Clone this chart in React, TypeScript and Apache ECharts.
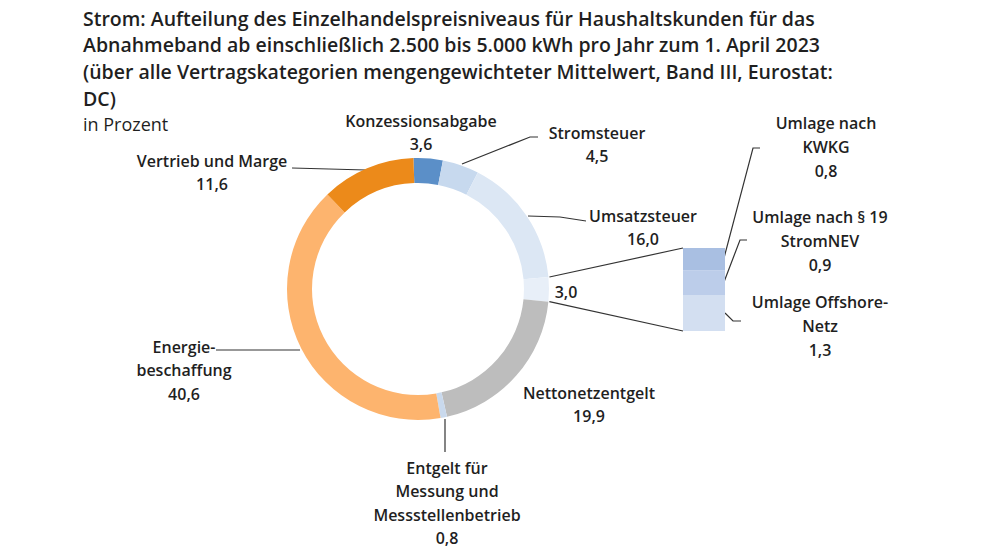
import React, { useEffect, useRef } from "react";
import * as echarts from "echarts";

const titleLines = [
  "Strom: Aufteilung des Einzelhandelspreisniveaus für Haushaltskunden für das",
  "Abnahmeband ab einschließlich 2.500 bis 5.000 kWh pro Jahr zum 1. April 2023",
  "(über alle Vertragskategorien mengengewichteter Mittelwert, Band III, Eurostat:",
  "DC)",
];
const unitLabel = "in Prozent";

const pieNames = [
  "Konzessionsabgabe",
  "Stromsteuer",
  "Umsatzsteuer",
  "Umlagen",
  "Nettonetzentgelt",
  "Entgelt für Messung und Messstellenbetrieb",
  "Energiebeschaffung",
  "Vertrieb und Marge",
];
const pieValues = [3.6, 4.5, 16.0, 3.0, 19.9, 0.8, 40.6, 11.6];
const pieLabelLines = [
  ["Konzessionsabgabe"],
  ["Stromsteuer"],
  ["Umsatzsteuer"],
  [],
  ["Nettonetzentgelt"],
  ["Entgelt für", "Messung und", "Messstellenbetrieb"],
  ["Energie-", "beschaffung"],
  ["Vertrieb und Marge"],
];

const barNames = ["Umlage Offshore-Netz", "Umlage nach § 19 StromNEV", "Umlage nach KWKG"];
const barValues = [1.3, 0.9, 0.8];
const barLabelLines = [
  ["Umlage Offshore-", "Netz"],
  ["Umlage nach § 19", "StromNEV"],
  ["Umlage nach", "KWKG"],
];

// styling / layout
const pieColors = ["#5b8fc8", "#c7d9ee", "#dce7f4", "#e8eff8", "#bdbdbd", "#c9d9ed", "#fdb46e", "#ec8a1a"];
const barColors = ["#d3dff1", "#bccdea", "#a9bfe2"];
const CX = 418, CY = 289, R_OUT = 131, R_IN = 106, START = 92;
const pieLabelPos: [number, number][] = [
  [421, 121], [597, 133], [643, 216], [566, 292], [589, 393], [447, 468], [184, 347], [212, 161],
];
const barLabelPos: [number, number][] = [[820, 302], [820, 217], [826, 123]];
const pieLeaders: [number, number][][] = [
  [], [[462, 164], [530, 137], [538, 137]], [[528, 216], [560, 217], [586, 221]], [], [],
  [[445, 419], [445, 452]], [[216, 350], [300, 350]], [[292, 168], [366, 170]],
];
const barLeaders: [number, number][][] = [
  [[725, 313], [733, 321], [741, 321]],
  [[724, 282], [740, 240], [747, 240]],
  [[724, 258], [753, 148], [760, 148]],
];
const BAR_L = 683, BAR_T = 248, BAR_W = 42, BAR_H = 83;

const fmt = (v: number) => v.toFixed(1).replace(".", ",");
const LABEL_FONT = '600 16px "Open Sans"';
const TEXT = "#1f1f1f";
const LH = 23.3;

export default function App() {
  const ref = useRef<HTMLDivElement>(null);
  useEffect(() => {
    if (!ref.current) return;
    const chart = echarts.init(ref.current, null, { renderer: "svg" });
    const total = pieValues.reduce((a, b) => a + b, 0);
    const graphics: any[] = [];
    titleLines.forEach((t, i) => {
      graphics.push({
        type: "text", x: 83, y: 18 + i * 26.7,
        style: { text: t, font: '600 19.5px "Open Sans"', fill: TEXT, align: "left", verticalAlign: "middle" },
      });
    });
    graphics.push({
      type: "text", x: 83, y: 124,
      style: { text: unitLabel, font: '400 18px "Open Sans"', fill: TEXT, align: "left", verticalAlign: "middle" },
    });
    pieValues.forEach((v, i) => {
      const lines = [...pieLabelLines[i], fmt(v)];
      const [x, y] = pieLabelPos[i];
      graphics.push({
        type: "text", x, y: y - LH / 2,
        style: { text: lines.join("\n"), font: LABEL_FONT, lineHeight: LH, fill: TEXT, align: "center", verticalAlign: "top" },
      });
      if (pieLeaders[i].length) {
        graphics.push({ type: "polyline", shape: { points: pieLeaders[i] }, style: { stroke: "#333", lineWidth: 1.2, fill: "none" } });
      }
    });
    barValues.forEach((v, i) => {
      const lines = [...barLabelLines[i], fmt(v)];
      const [x, y] = barLabelPos[i];
      graphics.push({
        type: "text", x, y: y - 12,
        style: { text: lines.join("\n"), font: LABEL_FONT, lineHeight: 24, fill: TEXT, align: "center", verticalAlign: "top" },
      });
      graphics.push({ type: "polyline", shape: { points: barLeaders[i] }, style: { stroke: "#333", lineWidth: 1.2, fill: "none" } });
    });
    // connectors from the "Umlagen" slice to the bar
    const idx = 3;
    const before = pieValues.slice(0, idx).reduce((a, b) => a + b, 0);
    const a0 = (START - (before / total) * 360) * Math.PI / 180;
    const a1 = (START - ((before + pieValues[idx]) / total) * 360) * Math.PI / 180;
    const p0 = [CX + R_OUT * Math.cos(a0) + 1, CY - R_OUT * Math.sin(a0)];
    const p1 = [CX + R_OUT * Math.cos(a1) + 1, CY - R_OUT * Math.sin(a1)];
    graphics.push({ type: "line", shape: { x1: p0[0], y1: p0[1], x2: BAR_L, y2: BAR_T }, style: { stroke: "#333", lineWidth: 1.2 } });
    graphics.push({ type: "line", shape: { x1: p1[0], y1: p1[1], x2: BAR_L, y2: BAR_T + BAR_H }, style: { stroke: "#333", lineWidth: 1.2 } });

    chart.setOption({
      animation: false,
      backgroundColor: "#ffffff",
      grid: { left: BAR_L, top: BAR_T, width: BAR_W, height: BAR_H },
      xAxis: { type: "category", data: ["Umlagen"], show: false },
      yAxis: { type: "value", min: 0, max: pieValues[idx], show: false },
      series: [
        {
          type: "pie",
          center: [CX, CY],
          radius: [R_IN, R_OUT],
          startAngle: START,
          clockwise: true,
          label: { show: false },
          labelLine: { show: false },
          emphasis: { disabled: true },
          data: pieNames.map((n, i) => ({ name: n, value: pieValues[i], itemStyle: { color: pieColors[i] } })),
        },
        ...barNames.map((n, i) => ({
          type: "bar",
          name: n,
          stack: "u",
          barWidth: "100%",
          data: [barValues[i]],
          itemStyle: { color: barColors[i] },
          emphasis: { disabled: true },
        })),
      ],
      graphic: graphics,
    });
    return () => chart.dispose();
  }, []);
  return <div ref={ref} style={{ position: "absolute", left: 0, top: 0, width: 983, height: 552 }} />;
}
